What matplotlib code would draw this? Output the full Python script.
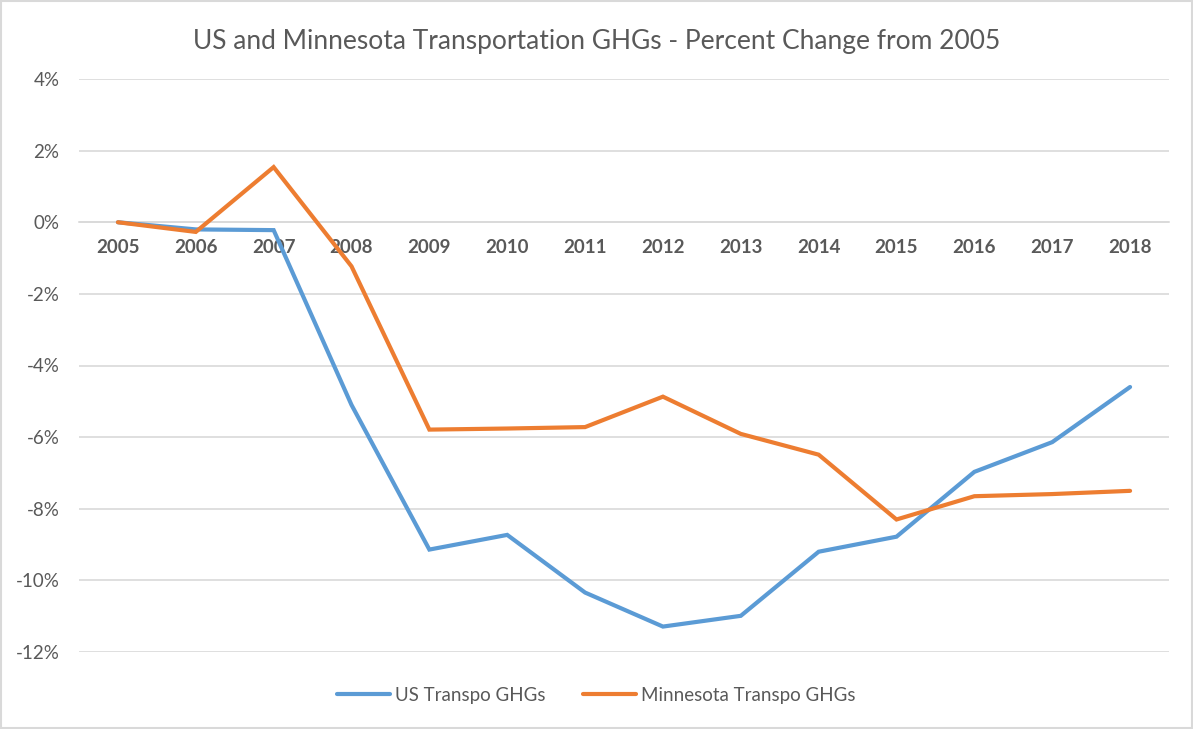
import matplotlib
matplotlib.use("Agg")
import matplotlib.pyplot as plt
from matplotlib.ticker import FuncFormatter, MultipleLocator
from matplotlib.patches import Rectangle

years = ["2005", "2006", "2007", "2008", "2009", "2010", "2011",
         "2012", "2013", "2014", "2015", "2016", "2017", "2018"]
us_transpo = [0.0, -0.20, -0.22, -5.10, -9.14, -8.73, -10.34,
              -11.29, -10.99, -9.20, -8.78, -6.97, -6.14, -4.60]
mn_transpo = [0.0, -0.27, 1.54, -1.23, -5.79, -5.76, -5.72,
              -4.87, -5.91, -6.49, -8.30, -7.65, -7.59, -7.50]

title = "US and Minnesota Transportation GHGs - Percent Change from 2005"
series_names = ["US Transpo GHGs", "Minnesota Transpo GHGs"]

FONT = "Lato"
TXT = "#595959"
BLUE = "#5B9BD5"
ORANGE = "#ED7D31"
GRID = "#D9D9D9"

fig = plt.figure(figsize=(11.93, 7.29), dpi=100)
fig.patch.set_facecolor("white")
fig.patches.append(Rectangle((0.001, 0.001), 0.998, 0.997, transform=fig.transFigure,
                             fill=False, edgecolor=GRID, linewidth=1.5))

ax = fig.add_axes([79/1193, 1-652/729, (1169-79)/1193, (652-79)/729])
x = list(range(len(years)))
ax.plot(x, us_transpo, color=BLUE, linewidth=3.0, label=series_names[0],
        solid_joinstyle="miter", solid_capstyle="round", zorder=3)
ax.plot(x, mn_transpo, color=ORANGE, linewidth=3.0, label=series_names[1],
        solid_joinstyle="miter", solid_capstyle="round", zorder=4)

ax.set_xlim(-0.5, len(years) - 0.5)
ax.set_ylim(-12, 4)
ax.yaxis.set_major_locator(MultipleLocator(2))
ax.yaxis.set_major_formatter(FuncFormatter(lambda v, p: f"{v:.0f}%"))
ax.grid(axis="y", color=GRID, linewidth=1.2)
ax.set_axisbelow(True)
for s in ["left", "right", "top"]:
    ax.spines[s].set_visible(False)
ax.spines["bottom"].set_position(("data", 0))
ax.spines["bottom"].set_color(GRID)
ax.spines["bottom"].set_linewidth(1.2)

ax.set_xticks(x)
ax.set_xticklabels(years, fontfamily=FONT, fontweight="bold", fontsize=13.5, color=TXT)
ax.tick_params(axis="x", length=0, pad=12)
ax.tick_params(axis="y", length=0, pad=14, labelsize=13.5, labelcolor=TXT)
for lab in ax.get_yticklabels():
    lab.set_fontfamily(FONT)

fig.text(0.5, 1-42/729, title, ha="center", va="center", fontsize=19,
         color=TXT, fontfamily=FONT)

leg = fig.legend(loc="center", bbox_to_anchor=(0.5, 1-695/729), ncol=2, frameon=False,
                 prop={"family": FONT, "size": 13.5}, handlelength=2.8,
                 handletextpad=0.3, columnspacing=2.0)
for t in leg.get_texts():
    t.set_color(TXT)

fig.savefig("out.png", dpi=100, facecolor="white")
